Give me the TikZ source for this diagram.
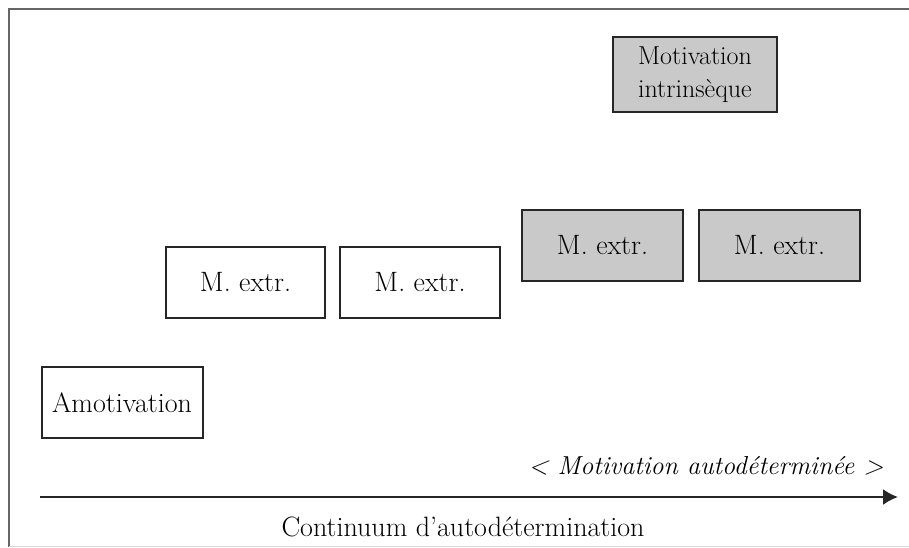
\documentclass[tikz,border=0pt]{standalone}
\usetikzlibrary{arrows.meta,positioning}
\definecolor{boxgray}{gray}{0.79}

\begin{document}
\begin{tikzpicture}[x=1pt,y=-1pt,
  stage/.style={draw=black!85,line width=2pt,minimum width=161pt,minimum height=71pt,inner sep=0pt,font=\fontsize{28}{34}\selectfont},
  auto stage/.style={stage,fill=boxgray}]
\useasboundingbox (0,0) rectangle (909,547);
\draw[black!60,line width=2pt] (9,547) -- (9,9) -- (909,9);
\draw[black!15,line width=1pt] (9,546) -- (909,546);
\node[auto stage,minimum width=164pt,minimum height=75pt,align=left,font=\fontsize{26}{33}\selectfont] (intr) at (695,74.5) {Motivation\\intrinsèque};
\node[stage] (amot) at (122,402.5) {Amotivation};
\node[stage,minimum width=159pt] (ext1) at (245.5,282.5) {M. extr.};
\node[stage,minimum width=160pt] (ext2) at (420,282.5) {M. extr.};
\node[auto stage] (ext3) at (602.5,245.5) {M. extr.};
\node[auto stage] (ext4) at (779.5,245.5) {M. extr.};
\coordinate (start) at (40,497);
\coordinate (end) at (898,497);
\draw[line width=2pt,black!85,-{Latex[length=15pt,width=16pt]}] (start) -- (end);
\node[font=\fontsize{26}{30}\selectfont\itshape] (auto) at (706,466) {\textless{} Motivation autodéterminée \textgreater};
\node[font=\fontsize{28}{34}\selectfont] (cont) at (463,527) {Continuum d’autodétermination};
\end{tikzpicture}
\end{document}
